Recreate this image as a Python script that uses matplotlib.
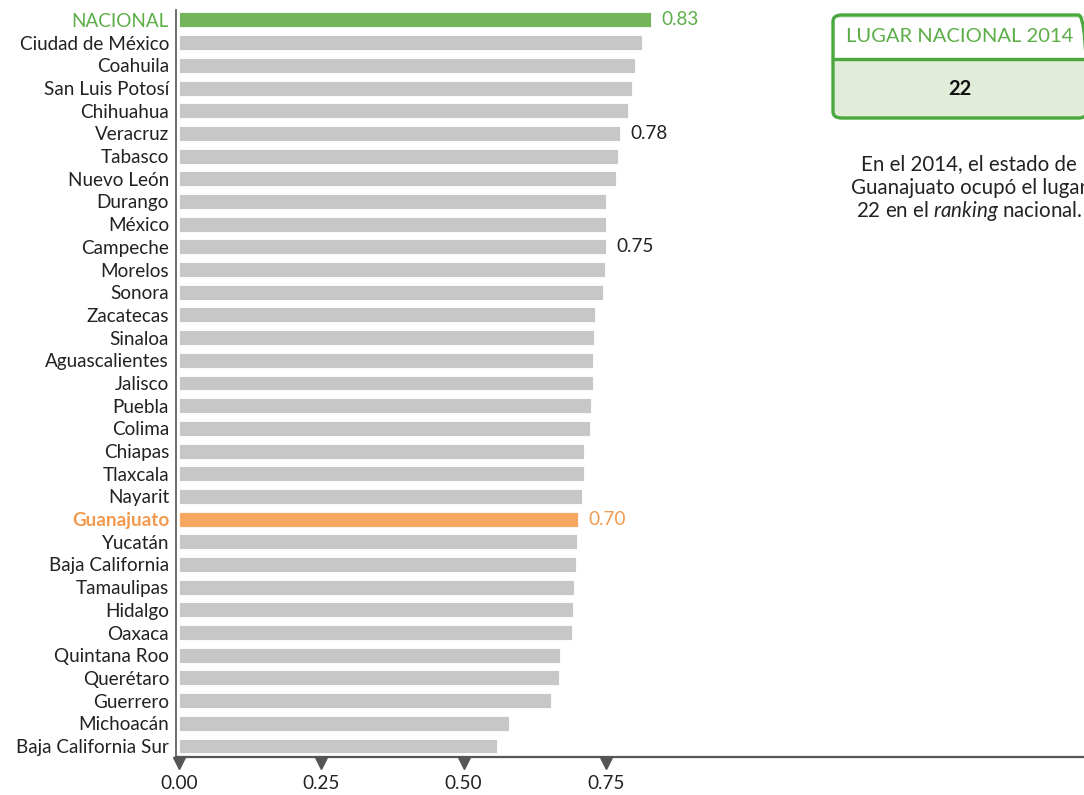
import matplotlib
matplotlib.use("Agg")
import matplotlib.pyplot as plt
from matplotlib.patches import FancyBboxPatch
import numpy as np

plt.rcParams['font.family'] = ['Lato', 'DejaVu Sans']
plt.rcParams['mathtext.fontset'] = 'custom'
plt.rcParams['mathtext.rm'] = 'Lato'
plt.rcParams['mathtext.it'] = 'Lato:italic'

states = ["NACIONAL", "Ciudad de México", "Coahuila", "San Luis Potosí", "Chihuahua",
          "Veracruz", "Tabasco", "Nuevo León", "Durango", "México", "Campeche",
          "Morelos", "Sonora", "Zacatecas", "Sinaloa", "Aguascalientes", "Jalisco",
          "Puebla", "Colima", "Chiapas", "Tlaxcala", "Nayarit", "Guanajuato",
          "Yucatán", "Baja California", "Tamaulipas", "Hidalgo", "Oaxaca",
          "Quintana Roo", "Querétaro", "Guerrero", "Michoacán", "Baja California Sur"]
values = [0.830, 0.814, 0.801, 0.796, 0.789, 0.775, 0.772, 0.768, 0.750, 0.750, 0.751,
          0.749, 0.745, 0.731, 0.729, 0.728, 0.727, 0.724, 0.722, 0.712, 0.711, 0.708,
          0.701, 0.700, 0.698, 0.694, 0.692, 0.690, 0.670, 0.667, 0.654, 0.580, 0.559]
labeled = {"NACIONAL": "0.83", "Veracruz": "0.78", "Campeche": "0.75", "Guanajuato": "0.70"}
xticks = [0.0, 0.25, 0.50, 0.75]
xtick_labels = ["0.00", "0.25", "0.50", "0.75"]

GREEN = "#73b35a"
GREEN_TXT = "#5cae48"
ORANGE = "#f5a661"
ORANGE_TXT = "#f39a4f"
GRAY = "#c7c7c7"
AXC = "#555555"
FS = 13.6

W, H = 1084, 795
fig = plt.figure(figsize=(W / 100, H / 100), dpi=100)
ax = fig.add_axes([176 / W, 1 - 757 / H, 1 - 176 / W, (757 - 10) / H])

y = np.arange(len(states))
colors = [GREEN if s == "NACIONAL" else ORANGE if s == "Guanajuato" else GRAY for s in states]
ax.barh(y, values, height=0.66, color=colors, edgecolor="white", linewidth=0.6)

ax.set_xlim(-3 / 569, 905 / 569)
ax.set_ylim(len(states) - 1 + 0.485, -0.44)

for spine in ["top", "right"]:
    ax.spines[spine].set_visible(False)
ax.spines["left"].set_color(AXC)
ax.spines["bottom"].set_color(AXC)
ax.spines["left"].set_linewidth(1.2)
ax.spines["bottom"].set_linewidth(1.6)

ax.set_yticks(y)
ax.set_yticklabels(states, fontsize=FS, color="#222222")
ax.tick_params(axis="y", length=0, pad=5)
for lbl, s in zip(ax.get_yticklabels(), states):
    if s == "NACIONAL":
        lbl.set_color(GREEN_TXT)
    elif s == "Guanajuato":
        lbl.set_color(ORANGE_TXT)
        lbl.set_fontweight("bold")

ax.set_xticks(xticks)
ax.set_xticklabels(xtick_labels, fontsize=FS, color="#222222")
ax.tick_params(axis="x", length=0, pad=13)
ax.plot(xticks, [-0.008] * len(xticks), marker="v", linestyle="none", markersize=8.5,
        color=AXC, transform=ax.get_xaxis_transform(), clip_on=False)

for s, v, yy in zip(states, values, y):
    if s in labeled:
        c = GREEN_TXT if s == "NACIONAL" else ORANGE_TXT if s == "Guanajuato" else "#222222"
        ax.text(v + 0.018, yy, labeled[s], va="center", ha="left", fontsize=FS, color=c)

# Right panel box
bx0, by0, bx1, by1 = 833, 15, 1087, 118
sep = 59
lower = FancyBboxPatch((bx0 / W, 1 - by1 / H), (bx1 - bx0) / W, (by1 - by0) / H,
                       boxstyle="round,pad=0,rounding_size=0.008", transform=fig.transFigure,
                       facecolor="#e1ecd9", edgecolor="none", zorder=2)
fig.patches.append(lower)
upper = plt.Rectangle((bx0 / W + 0.002, 1 - sep / H), (bx1 - bx0) / W - 0.004, (sep - by0) / H - 0.004,
                      transform=fig.transFigure, facecolor="white", edgecolor="none", zorder=3)
fig.patches.append(upper)
border = FancyBboxPatch((bx0 / W, 1 - by1 / H), (bx1 - bx0) / W, (by1 - by0) / H,
                        boxstyle="round,pad=0,rounding_size=0.008", transform=fig.transFigure,
                        facecolor="none", edgecolor="#4aa83e", linewidth=2.4, zorder=4)
fig.patches.append(border)
fig.add_artist(plt.Line2D([bx0 / W, bx1 / W], [1 - sep / H, 1 - sep / H],
                          transform=fig.transFigure, color="#4aa83e", linewidth=2.4, zorder=5))
fig.text(960 / W, 1 - 37 / H, "LUGAR NACIONAL 2014", ha="center", va="center",
         fontsize=14.5, color=GREEN_TXT, zorder=6)
fig.text(960 / W, 1 - 89 / H, "22", ha="center", va="center", fontsize=14.5,
         fontweight="bold", color="#111111", zorder=6)

PFS = 14.8
PCX = 969
fig.text(PCX / W, 1 - 164 / H, "En el 2014, el estado de", ha="center", va="center",
         fontsize=PFS, color="#222222")
fig.text(PCX / W, 1 - 188 / H, "Guanajuato ocupó el lugar", ha="center", va="center",
         fontsize=PFS, color="#222222")
fig.text(PCX / W, 1 - 211 / H, r"22 en el $\mathit{ranking}$ nacional.", ha="center",
         va="center", fontsize=PFS, color="#222222")

fig.savefig("out.png", dpi=100)
